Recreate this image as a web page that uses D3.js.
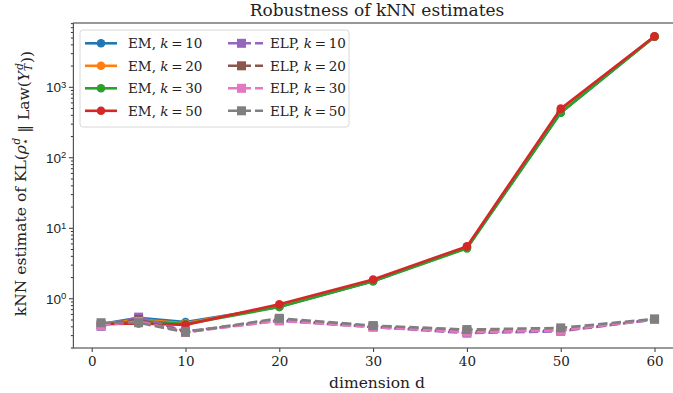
<!DOCTYPE html>
<html>
<head>
<meta charset="utf-8">
<script src="https://cdn.jsdelivr.net/npm/d3@7"></script>
<style>
  body { margin: 0; background: #fff; }
  svg { display: block; font-family: "DejaVu Serif", serif; }
</style>
</head>
<body>
<svg id="chart" width="673" height="393"></svg>
<script>
// dimensions on the x axis
var dims = [1, 5, 10, 20, 30, 40, 50, 60];

// EM estimates
var em10 = [0.43, 0.53, 0.46, 0.76, 1.75, 5.2, 430, 5150];
var em20 = [0.43, 0.50, 0.44, 0.78, 1.78, 5.3, 450, 5150];
var em30 = [0.42, 0.48, 0.43, 0.75, 1.74, 5.1, 430, 5150];
var em50 = [0.43, 0.44, 0.42, 0.82, 1.85, 5.45, 490, 5200];

// ELP estimates
var elp10 = [0.40, 0.54, 0.34, 0.48, 0.39, 0.32, 0.34, 0.50];
var elp20 = [0.42, 0.50, 0.33, 0.50, 0.40, 0.34, 0.35, 0.50];
var elp30 = [0.41, 0.47, 0.33, 0.48, 0.39, 0.33, 0.35, 0.50];
var elp50 = [0.45, 0.45, 0.33, 0.52, 0.41, 0.36, 0.38, 0.51];

var kValues = [10, 20, 30, 50];
var emColors = ["#1f77b4", "#ff7f0e", "#2ca02c", "#d62728"];
var elpColors = ["#9467bd", "#8c564b", "#e377c2", "#7f7f7f"];
var xTicks = [0, 10, 20, 30, 40, 50, 60];
var yTicks = [1, 10, 100, 1000];

var svg = d3.select("#chart");
var pLeft = 73.4, pRight = 682.2, pTop = 23, pBottom = 348;

var x = d3.scaleLinear().domain([-1.95, 62.95]).range([pLeft, pRight]);
var y = d3.scaleLog().domain([0.197, 8040]).range([pBottom, pTop]);

var series = [];
[em10, em20, em30, em50].forEach(function(vals, i) {
  series.push({name: "EM", k: kValues[i], color: emColors[i], values: vals, dashed: false});
});
[elp10, elp20, elp30, elp50].forEach(function(vals, i) {
  series.push({name: "ELP", k: kValues[i], color: elpColors[i], values: vals, dashed: true});
});

// clip plot area
svg.append("clipPath").attr("id", "clip")
  .append("rect").attr("x", pLeft).attr("y", pTop).attr("width", pRight - pLeft).attr("height", pBottom - pTop);

var plot = svg.append("g").attr("clip-path", "url(#clip)");

var line = d3.line()
  .x(function(d, i) { return x(dims[i]); })
  .y(function(d) { return y(d); });

series.forEach(function(s) {
  var g = plot.append("g");
  g.append("path")
    .attr("d", line(s.values))
    .attr("fill", "none")
    .attr("stroke", s.color)
    .attr("stroke-width", 2.6)
    .attr("stroke-dasharray", s.dashed ? "9.5,4" : null);
  if (s.dashed) {
    g.selectAll("rect").data(s.values).enter().append("rect")
      .attr("x", function(d, i) { return x(dims[i]) - 4.5; })
      .attr("y", function(d) { return y(d) - 4.5; })
      .attr("width", 9).attr("height", 9)
      .attr("fill", s.color);
  } else {
    g.selectAll("circle").data(s.values).enter().append("circle")
      .attr("cx", function(d, i) { return x(dims[i]); })
      .attr("cy", function(d) { return y(d); })
      .attr("r", 4.3)
      .attr("fill", s.color);
  }
});

// axes
var xAxis = d3.axisBottom(x).tickValues(xTicks).tickSize(4).tickPadding(4).tickFormat(d3.format("d"));
var gx = svg.append("g").attr("transform", "translate(0," + pBottom + ")").call(xAxis);
gx.select(".domain").remove();
gx.selectAll("line").attr("stroke", "#333");
gx.selectAll("text").attr("font-size", 13.5).attr("fill", "#222").attr("font-family", "DejaVu Serif");

// minor ticks for log axis
var minor = [];
[0.1, 1, 10, 100, 1000].forEach(function(base) {
  for (var m = 2; m <= 9; m++) {
    var v = base * m;
    if (v >= y.domain()[0] && v <= y.domain()[1]) minor.push(v);
  }
});
var gyMinor = svg.append("g").attr("transform", "translate(" + pLeft + ",0)")
  .call(d3.axisLeft(y).tickValues(minor).tickSize(2.5).tickFormat(""));
gyMinor.select(".domain").remove();
gyMinor.selectAll("line").attr("stroke", "#333");

var gy = svg.append("g").attr("transform", "translate(" + pLeft + ",0)")
  .call(d3.axisLeft(y).tickValues(yTicks).tickSize(4.5).tickFormat(""));
gy.select(".domain").remove();
gy.selectAll("line").attr("stroke", "#333");
gy.selectAll(".tick").append("text")
  .attr("x", -7).attr("dy", "0.35em")
  .attr("text-anchor", "end")
  .attr("fill", "#222")
  .attr("font-size", 13.5)
  .each(function(d) {
    var t = d3.select(this);
    t.append("tspan").text("10");
    t.append("tspan").attr("dy", "-0.45em").attr("font-size", 9.5).text(Math.round(Math.log10(d)));
  });

// frame
svg.append("rect")
  .attr("x", pLeft).attr("y", pTop)
  .attr("width", pRight - pLeft).attr("height", pBottom - pTop)
  .attr("fill", "none").attr("stroke", "#555").attr("stroke-width", 1.2);

// title
svg.append("text")
  .attr("x", 377).attr("y", 16)
  .attr("text-anchor", "middle")
  .attr("font-size", 17).attr("fill", "#222")
  .text("Robustness of kNN estimates");

// x label
svg.append("text")
  .attr("x", 377).attr("y", 388)
  .attr("text-anchor", "middle")
  .attr("font-size", 15.5).attr("fill", "#222")
  .text("dimension d");

// y label
var yl = svg.append("text")
  .attr("transform", "translate(26," + ((pTop + pBottom) / 2 - 2) + ") rotate(-90)")
  .attr("text-anchor", "middle")
  .attr("font-size", 15.5).attr("fill", "#222");
yl.append("tspan").text("kNN estimate of KL(");
yl.append("tspan").attr("font-style", "italic").text("ρ");
yl.append("tspan").attr("font-size", 10.5).attr("dy", "0.3em").text("⋆");
yl.append("tspan").attr("font-size", 10.5).attr("font-style", "italic").attr("dx", "-0.6em").attr("dy", "-0.85em").text("d");
yl.append("tspan").attr("dy", "0.55em").text(" ‖ Law(");
yl.append("tspan").attr("font-style", "italic").text("Y");
yl.append("tspan").attr("font-size", 10.5).attr("font-style", "italic").attr("dy", "0.3em").text("T");
yl.append("tspan").attr("font-size", 10.5).attr("font-style", "italic").attr("dx", "-0.55em").attr("dy", "-0.85em").text("d");
yl.append("tspan").attr("dy", "0.55em").text("))");

// legend
var legend = svg.append("g");
legend.append("rect")
  .attr("x", 80).attr("y", 30).attr("width", 269).attr("height", 97)
  .attr("rx", 3).attr("fill", "#fff").attr("fill-opacity", 0.85)
  .attr("stroke", "#d8d8d8").attr("stroke-width", 1);

series.forEach(function(s, i) {
  var col = s.dashed ? 1 : 0;
  var row = i % 4;
  var x0 = col ? 228 : 85;
  var yy = 43.3 + row * 22.5;
  var g = legend.append("g");
  g.append("line")
    .attr("x1", x0).attr("x2", x0 + (col ? 35 : 32))
    .attr("y1", yy).attr("y2", yy)
    .attr("stroke", s.color).attr("stroke-width", 2.6)
    .attr("stroke-dasharray", s.dashed ? "9.5,4" : null);
  var mx = x0 + (col ? 13.5 : 16);
  if (s.dashed) {
    g.append("rect").attr("x", mx - 4.5).attr("y", yy - 4.5).attr("width", 9).attr("height", 9).attr("fill", s.color);
  } else {
    g.append("circle").attr("cx", mx).attr("cy", yy).attr("r", 4.3).attr("fill", s.color);
  }
  var t = g.append("text")
    .attr("x", col ? 270 : 128).attr("y", yy + 5)
    .attr("font-size", 13.5).attr("fill", "#222");
  t.append("tspan").text(s.name + ", ");
  t.append("tspan").attr("font-style", "italic").text("k");
  t.append("tspan").text("\u2009=\u2009" + s.k);
});
</script>
</body>
</html>
